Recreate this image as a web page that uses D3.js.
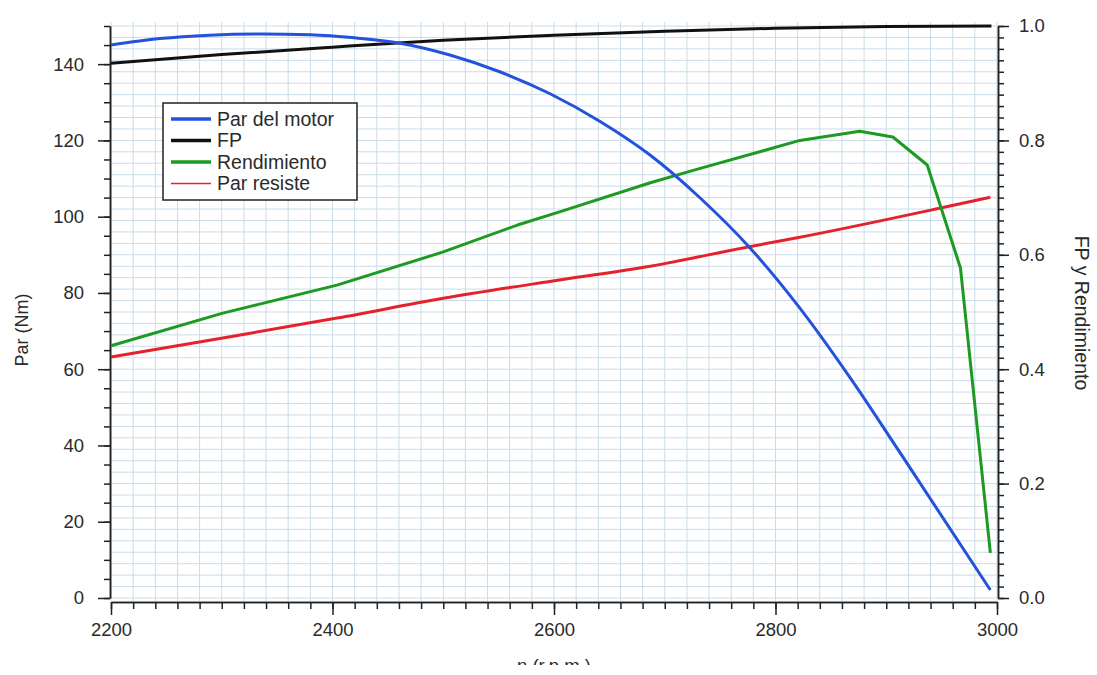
<!DOCTYPE html>
<html>
<head>
<meta charset="utf-8">
<script src="https://cdn.jsdelivr.net/npm/d3@7"></script>
<style>
	body { margin: 0; background: #fff; }
	text { font-family: "Liberation Sans", Arial, sans-serif; fill: #2a2a2a; }
</style>
</head>
<body>
<div id="chart"></div>
<script>
/*///////////////////////////////////////////////////////////
//Data
///////////////////////////////////////////////////////////*/
var rpmMotor = [2200, 2244, 2289, 2335, 2380, 2420, 2461, 2506, 2551, 2596, 2642, 2687, 2732, 2777, 2822, 2867, 2912, 2994];
var parMotor = [145.0, 146.7, 147.6, 147.9, 147.7, 146.9, 145.5, 142.4, 138.0, 132.3, 124.9, 116.1, 104.9, 91.8, 76.0, 57.9, 38.3, 2.1];

var rpmFP = [2200, 2300, 2400, 2500, 2600, 2700, 2800, 2900, 2995];
var fp = [0.935, 0.950, 0.963, 0.975, 0.984, 0.991, 0.996, 0.999, 1.0];

var rpmRend = [2200, 2301, 2404, 2500, 2567, 2605, 2687, 2732, 2789, 2822, 2876, 2906, 2937, 2967, 2994];
var rend = [0.441, 0.498, 0.547, 0.605, 0.652, 0.675, 0.726, 0.751, 0.782, 0.800, 0.816, 0.806, 0.757, 0.577, 0.079];

var rpmRes = [2200, 2301, 2404, 2500, 2605, 2687, 2774, 2822, 2948, 2994];
var parRes = [63.2, 68.2, 73.4, 78.6, 83.4, 87.0, 92.0, 94.6, 102.2, 105.1];

var xTicks = [2200, 2400, 2600, 2800, 3000];
var yLeftTicks = [0, 20, 40, 60, 80, 100, 120, 140];
var yRightTicks = [0, 0.2, 0.4, 0.6, 0.8, 1.0];

var legendNames = ["Par del motor", "FP", "Rendimiento", "Par resiste"];
var colors = ["#2352dc", "#111111", "#1c9a22", "#e5222b"];

/*///////////////////////////////////////////////////////////
//Setup
///////////////////////////////////////////////////////////*/
var width = 1097, height = 675;

var svg = d3.select("#chart").append("svg")
	.attr("width", width)
	.attr("height", height);

var x = d3.scaleLinear().domain([2200, 3000]).range([111, 997]);
var yL = d3.scaleLinear().domain([0, 150]).range([598, 26]);
var yR = d3.scaleLinear().domain([0, 1]).range([598, 26]);

/*Grid*/
var grid = svg.append("g").attr("class", "grid");
grid.selectAll(".vgrid")
	.data(d3.range(2200, 3001, 20))
	.enter().append("line")
	.attr("x1", function(d) { return x(d); })
	.attr("x2", function(d) { return x(d); })
	.attr("y1", 22).attr("y2", 601)
	.style("stroke", "#cadcE8")
	.style("stroke-width", 1);
grid.selectAll(".hgrid")
	.data(d3.range(0, 51).map(function(i) { return i * 0.02; }))
	.enter().append("line")
	.attr("x1", 111).attr("x2", 997)
	.attr("y1", function(d) { return yR(d); })
	.attr("y2", function(d) { return yR(d); })
	.style("stroke", "#cadce8")
	.style("stroke-width", 1);

/*Axes*/
function styleAxis(g) {
	g.select(".domain").style("stroke", "#222").style("stroke-width", 1.5);
	g.selectAll(".tick line").style("stroke", "#222").style("stroke-width", 1.5);
	g.selectAll(".tick text").style("font-size", "18.5px").style("fill", "#2a2a2a");
}

svg.append("g")
	.attr("transform", "translate(0,602)")
	.call(d3.axisBottom(x).tickValues(d3.range(2200, 3001, 20)).tickSize(7).tickFormat("").tickSizeOuter(0))
	.call(styleAxis);
svg.append("g")
	.attr("transform", "translate(0,602)")
	.call(d3.axisBottom(x).tickValues(xTicks).tickSize(13).tickPadding(8).tickFormat(d3.format("d")).tickSizeOuter(0))
	.call(styleAxis);

svg.append("g")
	.attr("transform", "translate(110,0)")
	.call(d3.axisLeft(yL).tickValues(d3.range(0, 151, 5)).tickSize(6).tickFormat("").tickSizeOuter(0))
	.call(styleAxis);
svg.append("g")
	.attr("transform", "translate(110,0)")
	.call(d3.axisLeft(yL).tickValues(yLeftTicks).tickSize(12).tickPadding(14).tickFormat(d3.format("d")).tickSizeOuter(0))
	.call(styleAxis);

svg.append("g")
	.attr("transform", "translate(998,0)")
	.call(d3.axisRight(yR).tickValues(d3.range(0, 51).map(function(i) { return i * 0.02; })).tickSize(6).tickFormat("").tickSizeOuter(0))
	.call(styleAxis);
svg.append("g")
	.attr("transform", "translate(998,0)")
	.call(d3.axisRight(yR).tickValues(yRightTicks).tickSize(11).tickPadding(10).tickFormat(d3.format(".1f")).tickSizeOuter(0))
	.call(styleAxis);

/*Axis titles*/
svg.append("text")
	.attr("transform", "translate(28,330) rotate(-90)")
	.attr("text-anchor", "middle")
	.style("font-size", "18px")
	.text("Par (Nm)");
svg.append("text")
	.attr("transform", "translate(1075,313) rotate(90)")
	.attr("text-anchor", "middle")
	.style("font-size", "19.5px")
	.text("FP y Rendimiento");
svg.append("text")
	.attr("x", 554).attr("y", 672)
	.attr("text-anchor", "middle")
	.style("font-size", "18.5px")
	.text("n (r.p.m.)");

/*///////////////////////////////////////////////////////////
//Lines
///////////////////////////////////////////////////////////*/
function drawLine(xs, ys, scaleY, color, w, curve) {
	var line = d3.line()
		.x(function(d, i) { return x(xs[i]); })
		.y(function(d) { return scaleY(d); })
		.curve(curve);
	svg.append("path")
		.datum(ys)
		.attr("d", line)
		.style("fill", "none")
		.style("stroke", color)
		.style("stroke-width", w)
		.style("stroke-linejoin", "round");
}

drawLine(rpmRes, parRes, yL, colors[3], 3, d3.curveMonotoneX);
drawLine(rpmRend, rend, yR, colors[2], 3, d3.curveLinear);
drawLine(rpmFP, fp, yR, colors[1], 3, d3.curveMonotoneX);
drawLine(rpmMotor, parMotor, yL, colors[0], 3, d3.curveMonotoneX);

/*///////////////////////////////////////////////////////////
//Legend
///////////////////////////////////////////////////////////*/
var legend = svg.append("g").attr("transform", "translate(163,103)");
legend.append("rect")
	.attr("width", 194).attr("height", 97)
	.style("fill", "#fff")
	.style("stroke", "#222")
	.style("stroke-width", 1.5);
legend.selectAll(".item")
	.data(legendNames)
	.enter().append("g")
	.attr("transform", function(d, i) { return "translate(0," + (16 + i * 21.5) + ")"; })
	.each(function(d, i) {
		var g = d3.select(this);
		g.append("line")
			.attr("x1", 8).attr("x2", 48)
			.style("stroke", colors[i])
			.style("stroke-width", i === 3 ? 1.6 : 3.5);
		g.append("text")
			.attr("x", 54).attr("dy", "0.35em")
			.style("font-size", "19.5px")
			.text(d);
	});

/*Picture is cut at the bottom*/
svg.append("rect")
	.attr("x", 0).attr("y", 665)
	.attr("width", width).attr("height", 10)
	.style("fill", "#fff");
</script>
</body>
</html>
